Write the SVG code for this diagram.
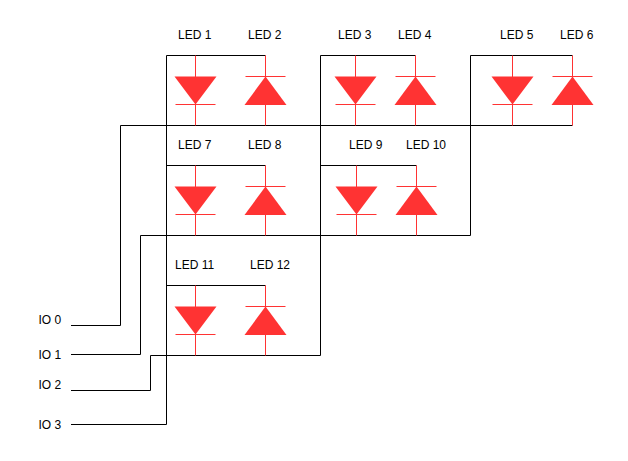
<svg xmlns="http://www.w3.org/2000/svg" width="628" height="461" viewBox="0 0 628 461">
<style>
text{font-family:"Liberation Sans",Arial,sans-serif;font-size:12px;fill:#000}
.w{fill:none;stroke:#000;stroke-width:1}
.r{fill:none;stroke:#ff3333;stroke-width:1}
.t{fill:#ff3333}
</style>
<defs>
<g id="down"><path class="r" d="M0 0V70M-20 49H20"/><path class="t" d="M-21 21H21L0 49Z"/></g>
<g id="up"><path class="r" d="M0 0V70M-20 21H20"/><path class="t" d="M-21 49.500H21L0 21Z"/></g>
</defs>
<g id="connectors">
<path class="w" d="M71 325.500H120.500V125.500H572.500"/>
<path class="w" d="M71 354.500H140.500V235.500H470.500V55.500H572.500"/>
<path class="w" d="M71 390.500H150.500V355.500H320.500V55.500H415.500"/>
<path class="w" d="M71 424.500H166.500V55.500H265.500"/>
<path class="w" d="M166.500 165.500H265.500M320.500 165.500H416.500M166.500 285.500H265.500"/>
</g>
<g id="led1"><use href="#down" x="195.500" y="55.500"/><text x="178" y="39">LED 1</text></g>
<g id="led2"><use href="#up" x="265.500" y="55.500"/><text x="248" y="39">LED 2</text></g>
<g id="led3"><use href="#down" x="355.500" y="55.500"/><text x="338" y="39">LED 3</text></g>
<g id="led4"><use href="#up" x="415.500" y="55.500"/><text x="398" y="39">LED 4</text></g>
<g id="led5"><use href="#down" x="512.500" y="55.500"/><text x="500" y="39">LED 5</text></g>
<g id="led6"><use href="#up" x="572.500" y="55.500"/><text x="560" y="39">LED 6</text></g>
<g id="led7"><use href="#down" x="195.500" y="165.500"/><text x="178" y="149">LED 7</text></g>
<g id="led8"><use href="#up" x="265.500" y="165.500"/><text x="248" y="149">LED 8</text></g>
<g id="led9"><use href="#down" x="356.500" y="165.500"/><text x="349" y="149">LED 9</text></g>
<g id="led10"><use href="#up" x="416.500" y="165.500"/><text x="406" y="149">LED 10</text></g>
<g id="led11"><use href="#down" x="195.500" y="285.500"/><text x="175" y="269">LED 11</text></g>
<g id="led12"><use href="#up" x="265.500" y="285.500"/><text x="250" y="269">LED 12</text></g>
<g id="io0"><text x="38.500" y="324">IO 0</text></g>
<g id="io1"><text x="38.500" y="359">IO 1</text></g>
<g id="io2"><text x="38.500" y="389">IO 2</text></g>
<g id="io3"><text x="38.500" y="429">IO 3</text></g>
</svg>
